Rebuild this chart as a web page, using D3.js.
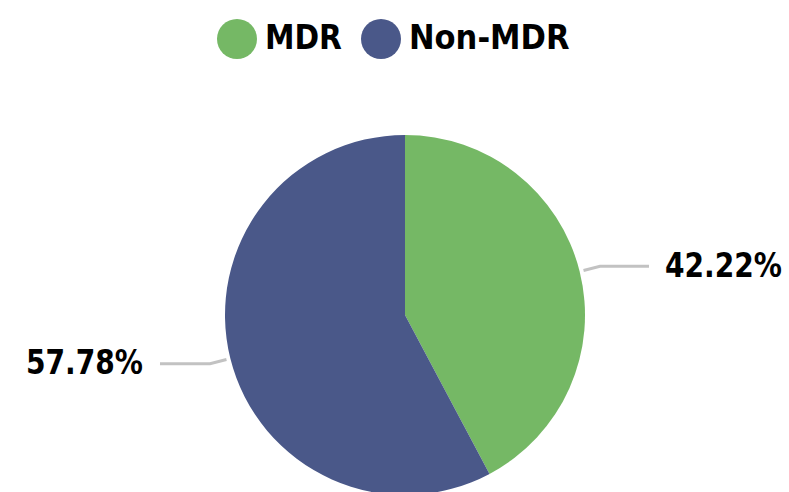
<!DOCTYPE html>
<html>
<head>
<meta charset="utf-8">
<script src="https://cdn.jsdelivr.net/npm/d3@7"></script>
<style>
  body { margin: 0; background: #fff; }
  text { font-family: "DejaVu Sans Condensed", "DejaVu Sans", sans-serif; font-weight: bold; }
</style>
</head>
<body>
<svg id="chart" width="789" height="492"></svg>
<script>
// data
var categories = ["MDR", "Non-MDR"];
var values = [42.22, 57.78];
var colors = ["#75b865", "#4a5889"];

var width = 789, height = 492,
    cx = 405, cy = 315,
    radius = 180;

var svg = d3.select("#chart");

var pie = d3.pie().sort(null).value(function(d) { return d.value; });
var arc = d3.arc().innerRadius(0).outerRadius(radius);

var data = categories.map(function(c, i) {
    return { name: c, value: values[i], color: colors[i] };
});
var arcs = pie(data);

// squeeze a text horizontally so it fits a given width (condensed look)
function squeeze(sel, x, y, w, anchor) {
    var len = sel.node().getComputedTextLength();
    var k = Math.min(1, w / len);
    sel.attr("text-anchor", anchor)
        .attr("transform", "translate(" + x + "," + y + ") scale(" + k + ",1)");
}

var g = svg.append("g").attr("transform", "translate(" + cx + "," + cy + ")");

g.selectAll("path.slice")
    .data(arcs)
    .enter()
    .append("path")
    .attr("class", "slice")
    .attr("d", arc)
    .style("fill", function(d) { return d.data.color; });

// label lines
function polar(r, a) { return [r * Math.sin(a), -r * Math.cos(a)]; }

arcs.forEach(function(d) {
    var mid = (d.startAngle + d.endAngle) / 2;
    var p0 = polar(radius + 4, mid);
    var p1 = polar(radius + 21, mid);
    var right = Math.sin(mid) > 0;
    var p2 = [p1[0] + (right ? 49 : -50), p1[1]];
    g.append("polyline")
        .attr("points", [p0, p1, p2].map(function(p) { return p.join(","); }).join(" "))
        .style("fill", "none")
        .style("stroke", "#c2c2c2")
        .style("stroke-width", 3);
    var t = g.append("text")
        .attr("dy", "0.36em")
        .style("font-size", "34px")
        .style("fill", "#000")
        .text(d3.format(".2f")(d.data.value) + "%");
    squeeze(t, p2[0] + (right ? 16 : -17), p2[1] - 2, 117, right ? "start" : "end");
});

// legend
var legendX = [237, 381];
var legendW = [77, 162];
var legend = svg.append("g");
data.forEach(function(d, i) {
    legend.append("circle")
        .attr("cx", legendX[i])
        .attr("cy", 39)
        .attr("r", 20)
        .style("fill", d.color);
    var t = legend.append("text")
        .style("font-size", "34px")
        .style("fill", "#000")
        .text(d.name);
    squeeze(t, legendX[i] + 28, 49, legendW[i], "start");
});
</script>
</body>
</html>
